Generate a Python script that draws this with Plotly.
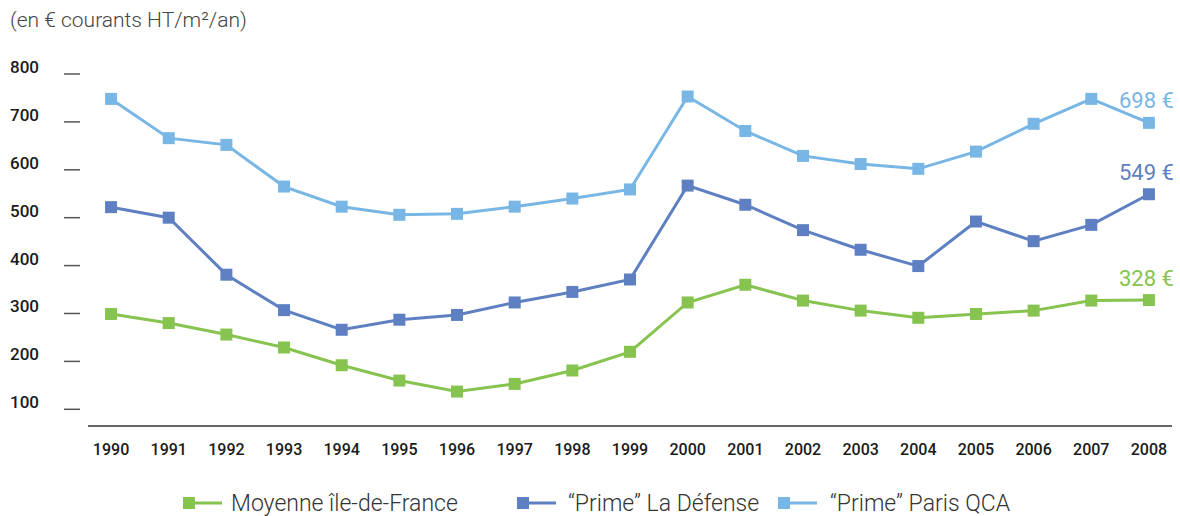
import plotly.graph_objects as go

years = list(range(1990, 2009))
moyenne_idf = [299, 280, 256, 229, 192, 160, 137, 153, 181, 220, 323, 360, 327, 306, 291, 299, 306, 327, 328]
prime_defense = [522, 500, 381, 307, 266, 287, 297, 323, 345, 371, 567, 527, 474, 433, 399, 492, 451, 485, 549]
prime_qca = [748, 666, 652, 565, 523, 506, 508, 523, 540, 559, 753, 681, 629, 612, 602, 638, 696, 748, 698]
series_names = ["Moyenne île-de-France", "\u201cPrime\u201d La Défense", "\u201cPrime\u201d Paris QCA"]
end_labels = ["328 €", "549 €", "698 €"]
ytick_vals = [100, 200, 300, 400, 500, 600, 700, 800]
unit_title = "(en € courants HT/m²/an)"

colors = ["#86c34f", "#5e80c2", "#78b6e5"]
FONT = "Roboto"

W, H = 1180, 516
L, R, T, B = 88, 8, 60, 91
PW = W - L - R
PH = H - T - B

def px_x(p):
    return (p - L) / PW

def px_y(p):
    return (H - B - p) / PH

fig = go.Figure()
all_series = [moyenne_idf, prime_defense, prime_qca]
for vals, name, col in zip(all_series, series_names, colors):
    fig.add_trace(go.Scatter(
        x=years, y=vals, mode="lines+markers", name=name,
        line=dict(color=col, width=3),
        marker=dict(symbol="square", size=12, color=col),
        showlegend=False,
    ))

annotations = []
for vals, lab, col in zip(all_series, end_labels, colors):
    annotations.append(dict(
        x=years[-1], y=vals[-1], xref="x", yref="y", text=lab, showarrow=False,
        xanchor="right", yanchor="middle", xshift=27, yshift=22,
        font=dict(family=FONT, size=22, color=col),
    ))

annotations.append(dict(
    x=px_x(8), y=px_y(20), xref="paper", yref="paper", text=unit_title,
    showarrow=False, xanchor="left", yanchor="middle",
    font=dict(family=FONT, size=21, color="#444444", weight=300),
))

shapes = []
for v in ytick_vals:
    shapes.append(dict(type="line", xref="paper", yref="y",
                       x0=px_x(64), x1=px_x(80), y0=v, y1=v,
                       line=dict(color="#555555", width=1.5)))

# custom legend
legend_items = [(183, 229), (517, 566), (778, 828)]
ly = px_y(503)
for (mx, tx), name, col in zip(legend_items, series_names, colors):
    shapes.append(dict(type="line", xref="paper", yref="paper",
                       x0=px_x(mx + 6), x1=px_x(mx + 39), y0=ly, y1=ly,
                       line=dict(color=col, width=3)))
    shapes.append(dict(type="rect", xref="paper", yref="paper",
                       x0=px_x(mx), x1=px_x(mx + 12), y0=px_y(509), y1=px_y(497),
                       line=dict(width=0), fillcolor=col))
    annotations.append(dict(x=px_x(tx), y=ly, xref="paper", yref="paper",
                            text=name, showarrow=False, xanchor="left", yanchor="middle",
                            font=dict(family=FONT, size=23, color="#333333", weight=300)))

fig.update_layout(
    width=W, height=H,
    margin=dict(l=L, r=R, t=T, b=B),
    paper_bgcolor="white", plot_bgcolor="white",
    showlegend=False,
    annotations=annotations,
    shapes=shapes,
    xaxis=dict(
        range=[1989.6, 2008.4], tickvals=years, ticktext=[str(y) for y in years],
        showgrid=False, zeroline=False, showline=True, linecolor="#666666", linewidth=1.5,
        ticks="", ticklabelstandoff=9,
        tickfont=dict(family=FONT, size=16, color="#1a1a1a", weight=500),
    ),
    yaxis=dict(
        range=[67.2, 829.2], tickvals=ytick_vals,
        showgrid=False, zeroline=False, showline=False, ticks="",
        ticklabelstandoff=48, ticklabelshift=-7,
        tickfont=dict(family=FONT, size=17, color="#1a1a1a", weight=500),
    ),
)

fig.write_html(
    "out.html",
    config={"displayModeBar": False},
    post_script="document.body.style.margin='0';document.body.style.overflow='hidden';",
)
